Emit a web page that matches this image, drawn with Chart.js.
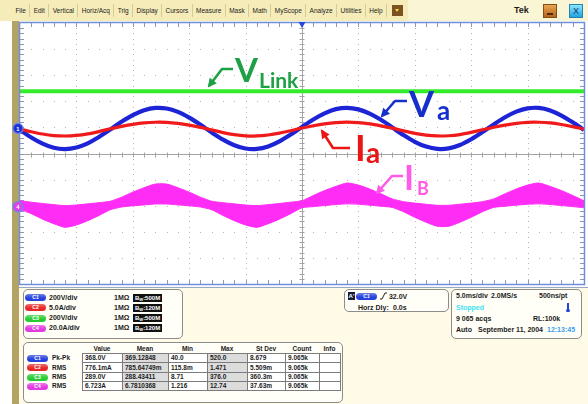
<!DOCTYPE html>
<html>
<head>
<meta charset="utf-8">
<title>DPO capture</title>
<script src="https://cdn.jsdelivr.net/npm/chart.js@4.4.1/dist/chart.umd.min.js"></script>
<style>
  html, body { margin: 0; padding: 0; }
  body { position: relative; width: 588px; height: 404px; overflow: hidden; background: #fff;
         font-family: "Liberation Sans", Arial, sans-serif; color: #1c1c1c; }
  .abs { position: absolute; white-space: nowrap; font-size: 7px; font-weight: bold; line-height: 8px; }
  #menu { position: absolute; left: 0; top: 0; width: 588px; height: 21px; background: #f5ecb9; }
  #menu .items { position: absolute; left: 12px; top: 4px; height: 13px; display: flex; }
  #menu .items span { font-size: 6.5px; line-height: 13px; padding: 0 3.4px; border-right: 1px solid #d6cb94; }
  #menu .drop { position: absolute; left: 392px; top: 5px; width: 11px; height: 11px; background: #7b5220; }
  #menu .drop:after { content: ""; position: absolute; left: 3px; top: 4px; border-left: 2.5px solid transparent;
                      border-right: 2.5px solid transparent; border-top: 3px solid #ffd84a; }
  #menu .right { position: absolute; left: 408px; top: 0; width: 180px; height: 21px; background: #faf5d4; }
  #menu .tek { position: absolute; left: 514px; top: 5px; font-size: 9px; font-weight: bold; line-height: 11px; }
  #menu .min { position: absolute; left: 543px; top: 4px; width: 12px; height: 12px;
               background: linear-gradient(#eaa452, #b5651a); border: 1px solid #80501a; }
  #menu .min:after { content: ""; position: absolute; left: 3px; top: 8px; width: 6px; height: 2px; background: #4a2a08; }
  #menu .close { position: absolute; left: 569px; top: 4px; width: 12px; height: 12px; text-align: center;
                 background: linear-gradient(#8ae6ff, #1fa6df); border: 1px solid #2a7fb0;
                 font-size: 9px; line-height: 12px; color: #17306a; }
  #tan { position: absolute; left: 12px; top: 21px; width: 7px; height: 383px; background: #b3a364; }
  #panel { position: absolute; left: 19px; top: 287px; width: 569px; height: 117px; background: #fffbe7;
           border-top: 1px solid #9aa6c6; }
  .box { position: absolute; border: 1px solid #8c8c8c; border-radius: 5px; background: #fffef7; }
  .badge { position: absolute; width: 21px; height: 7px; border-radius: 4px; color: #fff; font-size: 5px;
           font-weight: bold; line-height: 7px; text-align: center; }
  .bw { position: absolute; height: 8px; background: #111; color: #fff; font-size: 6px; font-weight: bold;
        line-height: 8px; padding: 0 2px; }
  .cell { position: absolute; box-sizing: border-box; border: 1px solid #7c7c7c; font-size: 6.5px;
          font-weight: bold; padding-left: 2px; white-space: nowrap; overflow: hidden; }
  #scope { position: absolute; left: 0; top: 0; }
</style>
</head>
<body>
<div id="menu">
  <div class="items">
    <span>File</span><span>Edit</span><span>Vertical</span><span>Horiz/Acq</span><span>Trig</span><span>Display</span>
    <span>Cursors</span><span>Measure</span><span>Mask</span><span>Math</span><span>MyScope</span><span>Analyze</span>
    <span>Utilities</span><span>Help</span>
  </div>
  <div class="drop"></div>
  <div class="right"></div>
  <div class="tek">Tek</div>
  <div class="min"></div>
  <div class="close">X</div>
</div>
<div id="tan"></div>
<div id="panel"></div>
<canvas id="scope" width="588" height="288"></canvas>
<script>
// sample times across the 10 divisions (5 ms/div)
const timeMs = [0, 1, 2, 3, 4, 5, 6, 7, 8, 9, 10, 11, 12, 13, 14, 15, 16, 17, 18, 19, 20,
  21, 22, 23, 24, 25, 26, 27, 28, 29, 30, 31, 32, 33, 34, 35, 36, 37, 38, 39, 40,
  41, 42, 43, 44, 45, 46, 47, 48, 49, 50];

// C1: phase voltage Va (V)
const vaVolts = [-12, -69, -116, -148, -158, -146, -114, -66, -8, 51, 102, 139, 157, 153, 127, 83, 28,
  -31, -86, -129, -154, -157, -138, -99, -47, 12, 69, 116, 148, 158, 146, 114, 66, 8,
  -51, -102, -139, -157, -153, -127, -83, -28, 31, 86, 129, 154, 157, 138, 99, 47, -12];

// C2: phase current Ia (A)
const iaAmps = [-0.11, -0.63, -1.07, -1.36, -1.45, -1.34, -1.05, -0.6, -0.07, 0.39, 0.78, 1.06, 1.19, 1.16,
  0.96, 0.63, 0.21, -0.28, -0.79, -1.18, -1.41, -1.44, -1.26, -0.91, -0.43, 0.09, 0.52, 0.88, 1.12,
  1.2, 1.11, 0.87, 0.5, 0.06, -0.47, -0.94, -1.28, -1.44, -1.4, -1.17, -0.76, -0.26, 0.24, 0.65,
  0.98, 1.17, 1.19, 1.05, 0.75, 0.36, -0.11];

// C3: dc link voltage (V)
const vLinkVolts = [285, 285, 285, 285, 285, 285, 285, 285, 285, 285, 285, 285, 285, 285, 285, 285, 285,
  285, 285, 285, 285, 285, 285, 285, 285, 285, 285, 285, 285, 285, 285, 285, 285, 285,
  285, 285, 285, 285, 285, 285, 285, 285, 285, 285, 285, 285, 285, 285, 285, 285, 285];

// C4: switched current IB, upper and lower edge of the ripple band (A)
const ibHighAmps = [4.6, 3.5, 2.5, 1.6, 0.9, 1.3, 2.2, 3.1, 4.2, 7.3, 11.2, 14.6, 17.4, 17.4, 14.6, 11.2, 7.3,
  4.2, 3.1, 2.2, 1.3, 0.9, 1.6, 2.5, 3.5, 4.6, 8.6, 12.4, 15.6, 18.2, 16.6, 13.6, 9.9, 6.0,
  3.9, 2.8, 1.9, 1.1, 1.1, 1.9, 2.8, 3.9, 6.0, 9.9, 13.6, 16.6, 18.2, 15.6, 12.4, 8.6, 4.6];
const ibLowAmps = [-2.0, -5.3, -9.5, -13.0, -15.8, -14.0, -10.7, -6.7, -2.3, -0.2, 0.7, 1.4, 2.1, 2.1, 1.4, 0.7, -0.2,
  -2.3, -6.7, -10.7, -14.0, -15.8, -13.0, -9.5, -5.3, -0.8, 0.1, 0.9, 1.7, 2.2, 1.9, 1.2, 0.4, -0.5,
  -3.8, -8.1, -11.9, -15.0, -15.0, -11.9, -8.1, -3.8, -0.5, 0.4, 1.2, 1.9, 2.2, 1.7, 0.9, 0.1, -0.8];

// vertical setup: units per division and ground position in divisions
const ch1 = { scale: 200, offset: 0.96, color: '#1d24d6' };
const ch2 = { scale: 5, offset: 0.96, color: '#f01a1a' };
const ch3 = { scale: 200, offset: 0.96, color: '#34ec2c' };
const ch4 = { scale: 20, offset: -2.04, color: '#ff2cf6' };

function trace(ch, values) {
  return values.map((v, i) => ({ x: timeMs[i], y: v / ch.scale + ch.offset }));
}

// dotted graticule, centre cross and edge ticks
const graticule = {
  id: 'graticule',
  beforeDatasetsDraw(chart) {
    const { ctx, chartArea: a, scales: { x, y } } = chart;
    ctx.save();
    ctx.fillStyle = '#ffffff';
    ctx.fillRect(a.left, a.top, a.right - a.left, a.bottom - a.top);

    ctx.fillStyle = '#b4b4b4';
    for (let d = 1; d < 10; d++) {
      if (d === 5) continue;
      const px = Math.round(x.getPixelForValue(d * 5));
      for (let m = 1; m < 50; m++) ctx.fillRect(px, Math.round(y.getPixelForValue(-5 + m * 0.2)), 1, 1);
    }
    for (let d = -4; d <= 4; d++) {
      if (d === 0) continue;
      const py = Math.round(y.getPixelForValue(d));
      for (let m = 1; m < 50; m++) ctx.fillRect(Math.round(x.getPixelForValue(m)), py, 1, 1);
    }

    const cx = Math.round(x.getPixelForValue(25)) + 0.5;
    const cy = Math.round(y.getPixelForValue(0)) + 0.5;
    ctx.strokeStyle = '#a4a4a4';
    ctx.lineWidth = 1;
    ctx.beginPath();
    ctx.moveTo(a.left, cy); ctx.lineTo(a.right, cy);
    ctx.moveTo(cx, a.top); ctx.lineTo(cx, a.bottom);
    for (let m = 1; m < 50; m++) {
      const px = Math.round(x.getPixelForValue(m)) + 0.5;
      ctx.moveTo(px, cy - 2); ctx.lineTo(px, cy + 3);
      const py = Math.round(y.getPixelForValue(-5 + m * 0.2)) + 0.5;
      ctx.moveTo(cx - 3, py); ctx.lineTo(cx + 2, py);
    }
    ctx.stroke();

    ctx.strokeStyle = '#8f97b4';
    ctx.beginPath();
    for (let m = 1; m < 50; m++) {
      const px = Math.round(x.getPixelForValue(m)) + 0.5;
      ctx.moveTo(px, a.top); ctx.lineTo(px, a.top + 4);
      ctx.moveTo(px, a.bottom); ctx.lineTo(px, a.bottom - 4);
      const py = Math.round(y.getPixelForValue(-5 + m * 0.2)) + 0.5;
      ctx.moveTo(a.left, py); ctx.lineTo(a.left + 4, py);
      ctx.moveTo(a.right, py); ctx.lineTo(a.right - 4, py);
    }
    ctx.stroke();
    ctx.restore();
  },
  afterDatasetsDraw(chart) {
    const { ctx, chartArea: a, scales: { x, y } } = chart;
    ctx.save();
    ctx.strokeStyle = '#6f8fdc';
    ctx.lineWidth = 1.5;
    ctx.strokeRect(a.left - 0.5, a.top - 0.5, a.right - a.left + 1, a.bottom - a.top + 1);

    // trigger position
    const tx = x.getPixelForValue(25);
    ctx.fillStyle = '#2248e0';
    ctx.beginPath();
    ctx.moveTo(tx - 3.5, a.top - 1); ctx.lineTo(tx + 3.5, a.top - 1); ctx.lineTo(tx, a.top + 5);
    ctx.closePath(); ctx.fill();

    // channel ground markers
    [[ch1, '1', '#1c34cf'], [ch4, '4', '#e044e6']].forEach(([ch, n, fill]) => {
      const py = y.getPixelForValue(ch.offset);
      ctx.beginPath();
      ctx.arc(a.left - 2, py, 5, 0, Math.PI * 2);
      ctx.fillStyle = fill; ctx.fill();
      ctx.lineWidth = 1.2; ctx.strokeStyle = '#6d7ff5'; ctx.stroke();
      ctx.fillStyle = '#ffffff';
      ctx.font = 'bold 6px "Liberation Sans"';
      ctx.textAlign = 'center'; ctx.textBaseline = 'middle';
      ctx.fillText(n, a.left - 2, py + 0.5);
    });
    ctx.restore();
  }
};

// hand-drawn signal names with bent arrows
const callouts = [
  { color: '#1ea045', path: [[233, 69], [222, 69], [209, 86]],
    text: [['V', 235, 82, 33], ['Link', 259, 88, 21]] },
  { color: '#1730cc', path: [[407, 101], [395, 101], [382, 116]],
    text: [['V', 409, 117, 36], ['a', 437, 120, 26]] },
  { color: '#ea1515', path: [[350, 148], [333, 148], [322, 131]],
    text: [['I', 355, 161, 36], ['a', 366, 163, 28]] },
  { color: '#ff5ae8', path: [[403, 176], [392, 176], [377, 193]],
    text: [['I', 404, 190, 34], ['B', 417, 195, 18]] }
];

const labels = {
  id: 'labels',
  afterDraw(chart) {
    const ctx = chart.ctx;
    ctx.save();
    callouts.forEach(c => {
      const p = c.path;
      ctx.strokeStyle = c.color; ctx.fillStyle = c.color;
      ctx.lineWidth = 2.6; ctx.lineJoin = 'round';
      ctx.beginPath();
      ctx.moveTo(p[0][0], p[0][1]);
      for (let i = 1; i < p.length; i++) ctx.lineTo(p[i][0], p[i][1]);
      ctx.stroke();
      const [x1, y1] = p[p.length - 2], [x2, y2] = p[p.length - 1];
      const ang = Math.atan2(y2 - y1, x2 - x1);
      ctx.beginPath();
      ctx.moveTo(x2 + 2 * Math.cos(ang), y2 + 2 * Math.sin(ang));
      ctx.lineTo(x2 - 7 * Math.cos(ang) + 4.5 * Math.sin(ang), y2 - 7 * Math.sin(ang) - 4.5 * Math.cos(ang));
      ctx.lineTo(x2 - 7 * Math.cos(ang) - 4.5 * Math.sin(ang), y2 - 7 * Math.sin(ang) + 4.5 * Math.cos(ang));
      ctx.closePath(); ctx.fill();
      ctx.textBaseline = 'alphabetic'; ctx.textAlign = 'left';
      c.text.forEach(([s, tx, ty, size]) => {
        ctx.font = 'bold ' + size + 'px Lato';
        ctx.fillText(s, tx, ty);
      });
    });
    ctx.restore();
  }
};

const line = (ch, values, width) => ({
  data: trace(ch, values), borderColor: ch.color, borderWidth: width,
  pointRadius: 0, tension: 0.3, fill: false, clip: 0
});

new Chart(document.getElementById('scope'), {
  type: 'line',
  data: {
    datasets: [
      line(ch3, vLinkVolts, 4),
      { data: trace(ch4, ibHighAmps), borderColor: ch4.color, backgroundColor: ch4.color, borderWidth: 1,
        pointRadius: 0, tension: 0.2, fill: '+1', clip: 0 },
      { data: trace(ch4, ibLowAmps), borderColor: ch4.color, borderWidth: 1,
        pointRadius: 0, tension: 0.2, fill: false, clip: 0 },
      line(ch2, iaAmps, 3.2),
      line(ch1, vaVolts, 4.2)
    ]
  },
  options: {
    responsive: false,
    animation: false,
    events: [],
    layout: { padding: { left: 20, top: 23, right: 4, bottom: 4 } },
    plugins: { legend: { display: false }, tooltip: { enabled: false } },
    scales: {
      x: { type: 'linear', min: 0, max: 50, display: false },
      y: { type: 'linear', min: -5, max: 5, display: false }
    }
  },
  plugins: [graticule, labels]
});

// status panel under the graticule
const badgeColors = { C1: '#2543dc', C2: '#e62828', C3: '#27cc35', C4: '#e23ae3' };

function put(html, x, cy, extra) {
  const el = document.createElement('div');
  el.className = 'abs';
  el.style.left = x + 'px';
  el.style.top = (cy - 4) + 'px';
  if (extra) el.style.cssText += extra;
  el.innerHTML = html;
  document.body.appendChild(el);
  return el;
}
function badge(name, x, cy) {
  const el = document.createElement('div');
  el.className = 'badge';
  el.style.left = x + 'px';
  el.style.top = (cy - 3.5) + 'px';
  const c = badgeColors[name];
  el.style.background = 'linear-gradient(' + c + 'aa, ' + c + ' 60%)';
  el.textContent = name;
  document.body.appendChild(el);
}
function box(x, y, w, h) {
  const el = document.createElement('div');
  el.className = 'box';
  el.style.cssText = 'left:' + x + 'px;top:' + y + 'px;width:' + w + 'px;height:' + h + 'px';
  document.body.appendChild(el);
}

box(23, 289, 158, 48);
const chanRows = [['C1', '200V/div', '500M'], ['C2', '5.0A/div', '120M'], ['C3', '200V/div', '500M'], ['C4', '20.0A/div', '120M']];
chanRows.forEach((r, i) => {
  const cy = 297.5 + i * 10.3;
  badge(r[0], 25, cy);
  put(r[1], 49, cy);
  put('1M&Omega;', 114, cy);
  const bw = document.createElement('div');
  bw.className = 'bw';
  bw.style.left = '133px';
  bw.style.top = (cy - 4) + 'px';
  bw.innerHTML = 'B<sub style="font-size:4px;vertical-align:-1px">W</sub>:' + r[2];
  document.body.appendChild(bw);
});

box(344, 289, 103, 21);
put('A\'', 348, 296, 'background:#151a3a;color:#fff;width:7px;height:8px;text-align:center;font-size:6px');
badge('C1', 356, 296);
put('<svg width="7" height="8" style="vertical-align:-1px"><polyline points="0,7 2,7 5,1 7,1" fill="none" stroke="#222" stroke-width="1"/></svg> 32.0V', 380, 296);
put('Horz Dly:', 358, 307.5);
put('0.0s', 393, 307.5);

box(451, 289, 129, 48);
put('5.0ms/div', 456, 296);
put('2.0MS/s', 491, 296);
put('500ns/pt', 539, 296);
put('Stopped', 456, 307.5, 'color:#3ee2f2');
put('<div style="width:2px;height:6px;background:#2440d8;margin-left:1px"></div><div style="width:4px;height:3px;border-radius:2px;background:#2440d8"></div>', 566, 307);
put('9 065 acqs', 456, 318.5);
put('RL:100k', 533, 318.5);
put('Auto', 456, 329.5);
put('September 11, 2004', 478, 329.5);
put('12:13:45', 547, 329.5, 'color:#3a9ff0');

// measurement readout
box(23, 342, 318, 59);
const measHeaders = ['Value', 'Mean', 'Min', 'Max', 'St Dev', 'Count', 'Info'];
const colEdges = [82, 122, 168, 207, 247, 285, 319, 340];
const rowTops = [353, 362, 372, 381, 390];
const measRows = [
  ['C1', 'Pk-Pk', '368.0V', '369.12848', '40.0', '520.0', '8.679', '9.065k', ''],
  ['C2', 'RMS', '776.1mA', '785.64749m', '115.8m', '1.471', '5.509m', '9.065k', ''],
  ['C3', 'RMS', '289.0V', '288.43411', '8.71', '376.0', '360.3m', '9.065k', ''],
  ['C4', 'RMS', '6.723A', '6.7810368', '1.216', '12.74', '37.63m', '9.065k', '']
];
measHeaders.forEach((h, i) => {
  const el = put(h, colEdges[i], 349, 'text-align:center;font-size:6.5px');
  el.style.width = (colEdges[i + 1] - colEdges[i]) + 'px';
});
measRows.forEach((r, ri) => {
  const top = rowTops[ri], h = rowTops[ri + 1] - top + 1;
  badge(r[0], 27, top + h / 2);
  put(r[1], 52, top + h / 2, 'font-size:6.5px');
  for (let c = 0; c < 7; c++) {
    const el = document.createElement('div');
    el.className = 'cell';
    el.style.left = colEdges[c] + 'px';
    el.style.top = top + 'px';
    el.style.width = (colEdges[c + 1] - colEdges[c] + 1) + 'px';
    el.style.height = h + 'px';
    el.style.lineHeight = (h - 2) + 'px';
    el.style.background = (c === 1 || c === 3) ? '#dcdcdc' : '#ffffff';
    el.textContent = r[c + 2];
    document.body.appendChild(el);
  }
});
</script>
</body>
</html>
